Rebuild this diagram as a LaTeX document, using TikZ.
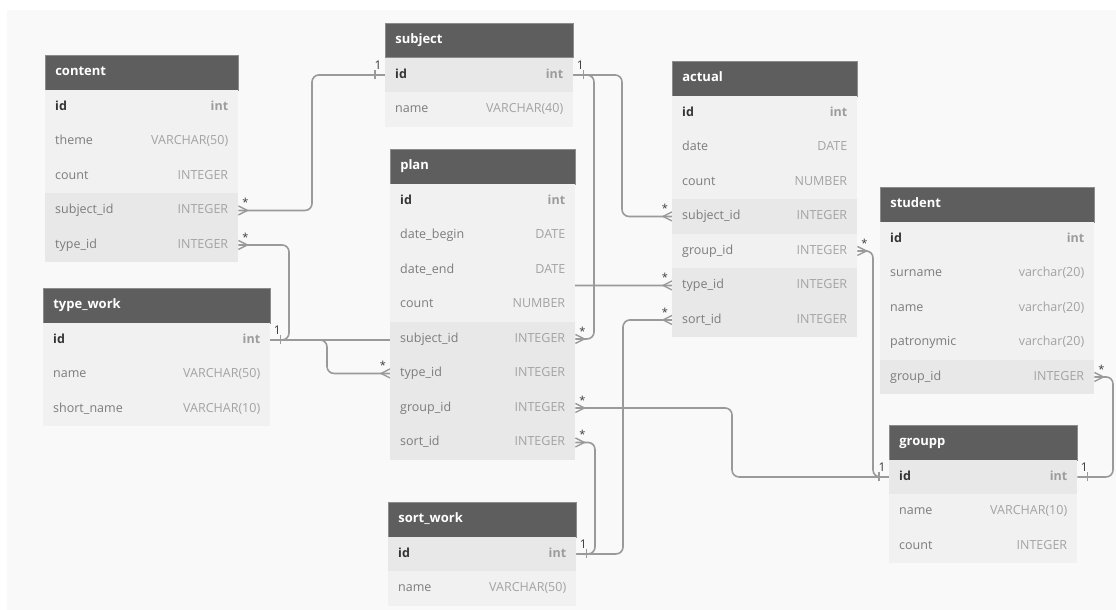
\documentclass[tikz,border=0pt]{standalone}
\usepackage{fontspec}
\setmainfont{Open Sans}
\usetikzlibrary{calc}
\pgfdeclarelayer{back}
\pgfdeclarelayer{wires}
\pgfsetlayers{back,wires,main}
\definecolor{hdr}{HTML}{5E5E5E}
\definecolor{hdrline}{HTML}{8C8C8C}
\definecolor{rowL}{HTML}{F1F1F1}
\definecolor{rowD}{HTML}{E8E8E8}
\definecolor{canvas}{HTML}{F9F9F9}
\definecolor{fieldc}{HTML}{7C7C7C}
\definecolor{typec}{HTML}{A3A3A3}
\definecolor{idc}{HTML}{333333}
\definecolor{intc}{HTML}{9C9C9C}
\definecolor{wire}{HTML}{9A9A9A}
\definecolor{cardc}{HTML}{3A3A3A}
\tikzset{
  hdrbox/.style={fill=hdr, draw=hdrline, line width=0.6pt, minimum height=34.5pt,
    inner xsep=10pt, inner ysep=0pt, anchor=north west, text=white,
    font=\bfseries\fontsize{13}{15}\selectfont, text height=9.5pt, text depth=3pt},
  rowbox/.style={minimum height=34.5pt, inner xsep=10pt, inner ysep=0pt, anchor=north west,
    text height=9.5pt, text depth=3pt, font=\fontsize{12.5}{15}\selectfont},
  conn/.style={draw=wire, line width=1.6pt, rounded corners=7pt},
  tickmark/.style={draw=wire, line width=1.4pt},
  card/.style={inner sep=0pt, text=cardc, font=\fontsize{11}{12}\selectfont},
  cardone/.style={inner sep=0pt, text=cardc, font=\fontsize{12}{13}\selectfont}
}
% header: name, x, top, width, title
\newcommand\thead[5]{\node[hdrbox] (#1) at (#2,#3) {\makebox[\dimexpr#4pt-20pt\relax][l]{#5}};}
% row: name, x, top, index, width, fill, field, type
\newcommand\trow[8]{\node[rowbox, fill=#6] (#1) at (#2,{#3+34.5*#4})
  {\makebox[\dimexpr#5pt-20pt\relax]{\color{fieldc}#7\hfill\color{typec}#8}};}
% id row: name, x, top, width, fill
\newcommand\tid[5]{\node[rowbox, fill=#5] (#1) at (#2,{#3+34.5})
  {\makebox[\dimexpr#4pt-20pt\relax]{\bfseries\color{idc}id\hfill\color{intc}int}};}
% cardinality marks
\newcommand\oneE[2]{\draw[tickmark] ([xshift=10pt,yshift=-4.5pt]#1.east) -- ([xshift=10pt,yshift=4.5pt]#1.east);
  \node[cardone] (#2) at ([xshift=7pt,yshift=10pt]#1.east) {1};}
\newcommand\oneW[2]{\draw[tickmark] ([xshift=-10pt,yshift=-4.5pt]#1.west) -- ([xshift=-10pt,yshift=4.5pt]#1.west);
  \node[cardone] (#2) at ([xshift=-7pt,yshift=10pt]#1.west) {1};}
\newcommand\manyE[2]{\draw[tickmark] ([yshift=4.5pt]#1.east) -- ([xshift=9pt]#1.east) -- ([yshift=-4.5pt]#1.east);
  \node[card] (#2) at ([xshift=7pt,yshift=8pt]#1.east) {*};}
\newcommand\manyW[2]{\draw[tickmark] ([yshift=4.5pt]#1.west) -- ([xshift=-9pt]#1.west) -- ([yshift=-4.5pt]#1.west);
  \node[card] (#2) at ([xshift=-7pt,yshift=8pt]#1.west) {*};}
\begin{document}
\begin{tikzpicture}[x=1pt,y=-1pt]
\useasboundingbox (0,0) rectangle (1116,610);
\begin{pgfonlayer}{back}
  \fill[white] (0,0) rectangle (1116,610);
  \fill[canvas] (7,10) rectangle (1116,610);
\end{pgfonlayer}

% content
\thead{content}{45}{55}{193}{content}
\tid{content-id}{45}{55}{193}{rowL}
\trow{content-theme}{45}{55}{2}{193}{rowL}{theme}{VARCHAR(50)}
\trow{content-count}{45}{55}{3}{193}{rowL}{count}{INTEGER}
\trow{content-subjectid}{45}{55}{4}{193}{rowD}{subject\_id}{INTEGER}
\trow{content-typeid}{45}{55}{5}{193}{rowD}{type\_id}{INTEGER}

% subject
\thead{subject}{385}{23}{188}{subject}
\tid{subject-id}{385}{23}{188}{rowD}
\trow{subject-name}{385}{23}{2}{188}{rowL}{name}{VARCHAR(40)}

% plan
\thead{plan}{390}{149}{185}{plan}
\tid{plan-id}{390}{149}{185}{rowL}
\trow{plan-datebegin}{390}{149}{2}{185}{rowL}{date\_begin}{DATE}
\trow{plan-dateend}{390}{149}{3}{185}{rowL}{date\_end}{DATE}
\trow{plan-count}{390}{149}{4}{185}{rowL}{count}{NUMBER}
\trow{plan-subjectid}{390}{149}{5}{185}{rowD}{subject\_id}{INTEGER}
\trow{plan-typeid}{390}{149}{6}{185}{rowD}{type\_id}{INTEGER}
\trow{plan-groupid}{390}{149}{7}{185}{rowD}{group\_id}{INTEGER}
\trow{plan-sortid}{390}{149}{8}{185}{rowD}{sort\_id}{INTEGER}

% actual
\thead{actual}{672}{61}{185}{actual}
\tid{actual-id}{672}{61}{185}{rowL}
\trow{actual-date}{672}{61}{2}{185}{rowL}{date}{DATE}
\trow{actual-count}{672}{61}{3}{185}{rowL}{count}{NUMBER}
\trow{actual-subjectid}{672}{61}{4}{185}{rowD}{subject\_id}{INTEGER}
\trow{actual-groupid}{672}{61}{5}{185}{rowL}{group\_id}{INTEGER}
\trow{actual-typeid}{672}{61}{6}{185}{rowD}{type\_id}{INTEGER}
\trow{actual-sortid}{672}{61}{7}{185}{rowD}{sort\_id}{INTEGER}

% student
\thead{student}{880}{187}{214}{student}
\tid{student-id}{880}{187}{214}{rowL}
\trow{student-surname}{880}{187}{2}{214}{rowL}{surname}{varchar(20)}
\trow{student-name}{880}{187}{3}{214}{rowL}{name}{varchar(20)}
\trow{student-patronymic}{880}{187}{4}{214}{rowL}{patronymic}{varchar(20)}
\trow{student-groupid}{880}{187}{5}{214}{rowD}{group\_id}{INTEGER}

% groupp
\thead{groupp}{889}{425}{188}{groupp}
\tid{groupp-id}{889}{425}{188}{rowD}
\trow{groupp-name}{889}{425}{2}{188}{rowL}{name}{VARCHAR(10)}
\trow{groupp-count}{889}{425}{3}{188}{rowL}{count}{INTEGER}

% type_work
\thead{typework}{43}{288}{227}{type\_work}
\tid{typework-id}{43}{288}{227}{rowL}
\trow{typework-name}{43}{288}{2}{227}{rowL}{name}{VARCHAR(50)}
\trow{typework-shortname}{43}{288}{3}{227}{rowL}{short\_name}{VARCHAR(10)}

% sort_work
\thead{sortwork}{388}{502}{188}{sort\_work}
\tid{sortwork-id}{388}{502}{188}{rowD}
\trow{sortwork-name}{388}{502}{2}{188}{rowL}{name}{VARCHAR(50)}

% channels
\coordinate (v1) at (312,0);
\coordinate (v2) at (289,0);
\coordinate (v3) at (327,0);
\coordinate (v4) at (480,0);
\coordinate (v5) at (594,0);
\coordinate (v6) at (622,0);
\coordinate (v7) at (623,0);
\coordinate (v8) at (595,0);
\coordinate (v9) at (732,0);
\coordinate (v10) at (873,0);
\coordinate (v11) at (1113,0);

\begin{pgfonlayer}{wires}
\draw[conn] (content-subjectid.east) -- (content-subjectid.east -| v1) -- (subject-id.west -| v1) -- (subject-id.west);
\draw[conn] (content-typeid.east) -- (content-typeid.east -| v2) -- (typework-id.east -| v2) -- (typework-id.east);
\draw[conn] (typework-id.east) -- (typework-id.east -| v3) -- (plan-typeid.west -| v3) -- (plan-typeid.west);
\draw[conn] (actual-typeid.west) -- (actual-typeid.west -| v4) -- (typework-id.east -| v4) -- (typework-id.east);
\draw[conn] (subject-id.east) -- (subject-id.east -| v5) -- (plan-subjectid.east -| v5) -- (plan-subjectid.east);
\draw[conn] (subject-id.east) -- (subject-id.east -| v6) -- (actual-subjectid.west -| v6) -- (actual-subjectid.west);
\draw[conn] (sortwork-id.east) -- (sortwork-id.east -| v7) -- (actual-sortid.west -| v7) -- (actual-sortid.west);
\draw[conn] (plan-sortid.east) -- (plan-sortid.east -| v8) -- (sortwork-id.east -| v8) -- (sortwork-id.east);
\draw[conn] (plan-groupid.east) -- (plan-groupid.east -| v9) -- (groupp-id.west -| v9) -- (groupp-id.west);
\draw[conn] (actual-groupid.east) -- (actual-groupid.east -| v10) -- (groupp-id.west -| v10) -- (groupp-id.west);
\draw[conn] (student-groupid.east) -- (student-groupid.east -| v11) -- (groupp-id.east -| v11) -- (groupp-id.east);

\manyE{content-subjectid}{m1}
\manyE{content-typeid}{m2}
\manyW{plan-typeid}{m3}
\manyE{plan-subjectid}{m4}
\manyE{plan-groupid}{m5}
\manyE{plan-sortid}{m6}
\manyW{actual-subjectid}{m7}
\manyW{actual-typeid}{m8}
\manyW{actual-sortid}{m9}
\manyE{actual-groupid}{m10}
\manyE{student-groupid}{m11}
\oneW{subject-id}{o1}
\oneE{subject-id}{o2}
\oneE{typework-id}{o3}
\oneE{sortwork-id}{o4}
\oneW{groupp-id}{o5}
\oneE{groupp-id}{o6}
\end{pgfonlayer}
\end{tikzpicture}
\end{document}
